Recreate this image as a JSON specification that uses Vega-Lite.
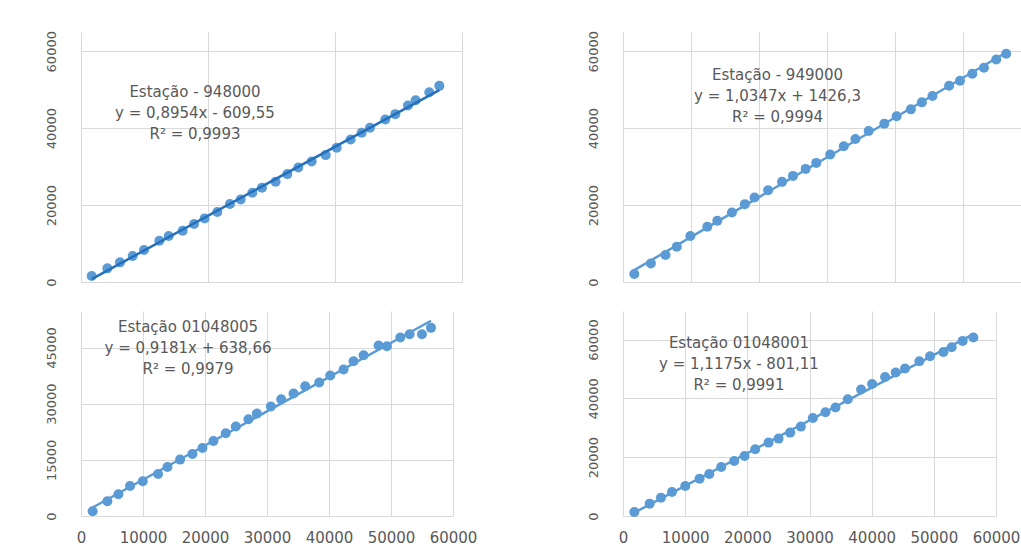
{
  "$schema": "https://vega.github.io/schema/vega-lite/v6.json",
  "background": "white",
  "padding": {"left": 44, "top": 30, "right": 0, "bottom": 0},
  "config": {
    "view": {"stroke": null},
    "axis": {"domain": false, "ticks": false, "tickSize": 0, "gridColor": "#d9d9d9", "gridWidth": 1, "labelColor": "#595959", "labelFont": "DejaVu Sans", "title": null, "labelFlush": false, "labelOverlap": false, "format": "d"},
    "text": {"font": "DejaVu Sans", "fontSize": 15, "color": "#595959", "lineHeight": 21, "align": "center", "baseline": "middle", "dy": -21}
  },
  "datasets": {
    "e948000": [
      {"x":1680,"y":1560},{"x":4150,"y":3550},{"x":6140,"y":5110},{"x":8140,"y":6750},{"x":9920,"y":8310},{"x":12340,"y":10740},{"x":13810,"y":11950},{"x":16010,"y":13330},{"x":17800,"y":15070},{"x":19470,"y":16540},{"x":21470,"y":18180},{"x":23460,"y":20260},{"x":25140,"y":21470},{"x":26980,"y":23200},{"x":28500,"y":24500},{"x":30650,"y":26060},{"x":32490,"y":28050},{"x":34220,"y":29780},{"x":36320,"y":31340},{"x":38530,"y":32990},{"x":40260,"y":34890},{"x":42460,"y":37060},{"x":44200,"y":38790},{"x":45510,"y":40090},{"x":47920,"y":42250},{"x":49500,"y":43640},{"x":51490,"y":45890},{"x":52700,"y":47270},{"x":54850,"y":49350},{"x":56430,"y":51000}
    ],
    "e949000": [
      {"x":1660,"y":2080},{"x":4100,"y":4840},{"x":6250,"y":7010},{"x":7910,"y":9170},{"x":9910,"y":11940},{"x":12400,"y":14360},{"x":13870,"y":15920},{"x":16020,"y":18080},{"x":17920,"y":20240},{"x":19340,"y":21970},{"x":21340,"y":23870},{"x":23390,"y":26040},{"x":25000,"y":27590},{"x":26860,"y":29410},{"x":28420,"y":30970},{"x":30470,"y":33130},{"x":32470,"y":35290},{"x":34180,"y":37200},{"x":36130,"y":39270},{"x":38430,"y":41170},{"x":40240,"y":43080},{"x":42340,"y":44890},{"x":43950,"y":46710},{"x":45510,"y":48350},{"x":47950,"y":51040},{"x":49560,"y":52330},{"x":51370,"y":54150},{"x":53080,"y":55710},{"x":54890,"y":57870},{"x":56350,"y":59340}
    ],
    "e01048005": [
      {"x":1880,"y":1250},{"x":4250,"y":3920},{"x":6030,"y":5790},{"x":7910,"y":8020},{"x":9960,"y":9270},{"x":12430,"y":11230},{"x":13940,"y":13100},{"x":15980,"y":15060},{"x":17970,"y":16570},{"x":19590,"y":18180},{"x":21360,"y":20050},{"x":23350,"y":22100},{"x":24970,"y":23880},{"x":27010,"y":25840},{"x":28360,"y":27350},{"x":30620,"y":29230},{"x":32290,"y":31190},{"x":34280,"y":32700},{"x":36160,"y":34660},{"x":38420,"y":35640},{"x":40200,"y":37510},{"x":42350,"y":39120},{"x":43960,"y":41340},{"x":45580,"y":42950},{"x":48000,"y":45530},{"x":49340,"y":45350},{"x":51500,"y":47670},{"x":53000,"y":48560},{"x":54990,"y":48560},{"x":56450,"y":50250}
    ],
    "e01048001": [
      {"x":1820,"y":1360},{"x":4290,"y":4200},{"x":6110,"y":6240},{"x":7880,"y":8170},{"x":10020,"y":10210},{"x":12320,"y":12700},{"x":13880,"y":14290},{"x":15800,"y":16670},{"x":17890,"y":18710},{"x":19550,"y":20410},{"x":21270,"y":22680},{"x":23410,"y":24950},{"x":25020,"y":26310},{"x":26890,"y":28350},{"x":28610,"y":30390},{"x":30540,"y":33340},{"x":32570,"y":35270},{"x":34180,"y":36860},{"x":36160,"y":39690},{"x":38300,"y":42980},{"x":40070,"y":44910},{"x":42160,"y":47290},{"x":43870,"y":48760},{"x":45370,"y":50120},{"x":47680,"y":52620},{"x":49390,"y":54320},{"x":51540,"y":55790},{"x":52870,"y":57380},{"x":54640,"y":59540},{"x":56360,"y":60670}
    ]
  },
  "columns": 2,
  "spacing": {"row": 29, "column": 161},
  "bounds": "flush",
  "concat": [
    {
      "width": 381, "height": 250,
      "layer": [
        {
          "data": {"name": "e948000"},
          "mark": {"type": "point", "filled": true, "size": 100, "color": "#5b9bd5", "opacity": 1},
          "encoding": {
            "x": {"field": "x", "type": "quantitative", "scale": {"domain": [0, 60000], "nice": false}, "axis": {"values": [0, 20000, 40000, 60000], "labels": false}},
            "y": {"field": "y", "type": "quantitative", "scale": {"domain": [0, 65000], "nice": false}, "axis": {"values": [0, 20000, 40000, 60000], "labelAngle": 270, "labelAlign": "center", "labelBaseline": "alphabetic", "labelPadding": 26, "labelFontSize": 13}}
          }
        },
        {
          "data": {"name": "e948000"},
          "transform": [{"regression": "y", "on": "x"}],
          "mark": {"type": "line", "color": "#2470bd", "strokeWidth": 2.5},
          "encoding": {
            "x": {"field": "x", "type": "quantitative"},
            "y": {"field": "y", "type": "quantitative"}
          }
        },
        {
          "data": {"values": [{"label": "a"}]},
          "mark": {"type": "text", "text": ["Estação - 948000", "y = 0,8954x - 609,55", "R² = 0,9993"]},
          "encoding": {"x": {"datum": 17950}, "y": {"datum": 43900}}
        }
      ]
    },
    {
      "width": 408, "height": 250,
      "layer": [
        {
          "data": {"name": "e949000"},
          "mark": {"type": "point", "filled": true, "size": 100, "color": "#5b9bd5", "opacity": 1},
          "encoding": {
            "x": {"field": "x", "type": "quantitative", "scale": {"domain": [0, 60000], "nice": false}, "axis": {"values": [0, 10000, 20000, 30000, 40000, 50000, 60000], "labels": false}},
            "y": {"field": "y", "type": "quantitative", "scale": {"domain": [0, 65000], "nice": false}, "axis": {"values": [0, 20000, 40000, 60000], "labelAngle": 270, "labelAlign": "center", "labelBaseline": "alphabetic", "labelPadding": 26, "labelFontSize": 13}}
          }
        },
        {
          "data": {"name": "e949000"},
          "transform": [{"regression": "y", "on": "x"}],
          "mark": {"type": "line", "color": "#5b9bd5", "strokeWidth": 2.5},
          "encoding": {
            "x": {"field": "x", "type": "quantitative"},
            "y": {"field": "y", "type": "quantitative"}
          }
        },
        {
          "data": {"values": [{"label": "b"}]},
          "mark": {"type": "text", "text": ["Estação - 949000", "y = 1,0347x + 1426,3", "R² = 0,9994"]},
          "encoding": {"x": {"datum": 22720}, "y": {"datum": 48300}}
        }
      ]
    },
    {
      "width": 372, "height": 205,
      "layer": [
        {
          "data": {"name": "e01048005"},
          "mark": {"type": "point", "filled": true, "size": 100, "color": "#5b9bd5", "opacity": 1},
          "encoding": {
            "x": {"field": "x", "type": "quantitative", "scale": {"domain": [0, 60000], "nice": false}, "axis": {"values": [0, 10000, 20000, 30000, 40000, 50000, 60000], "labelFontSize": 15, "labelPadding": 14}},
            "y": {"field": "y", "type": "quantitative", "scale": {"domain": [0, 54750], "nice": false}, "axis": {"values": [0, 15000, 30000, 45000], "labelAngle": 270, "labelAlign": "center", "labelBaseline": "alphabetic", "labelPadding": 26, "labelFontSize": 13}}
          }
        },
        {
          "data": {"name": "e01048005"},
          "transform": [{"regression": "y", "on": "x"}],
          "mark": {"type": "line", "color": "#5b9bd5", "strokeWidth": 2.5},
          "encoding": {
            "x": {"field": "x", "type": "quantitative"},
            "y": {"field": "y", "type": "quantitative"}
          }
        },
        {
          "data": {"values": [{"label": "c"}]},
          "mark": {"type": "text", "text": ["Estação 01048005", "y = 0,9181x + 638,66", "R² = 0,9979"]},
          "encoding": {"x": {"datum": 17260}, "y": {"datum": 44760}}
        }
      ]
    },
    {
      "width": 373, "height": 205,
      "layer": [
        {
          "data": {"name": "e01048001"},
          "mark": {"type": "point", "filled": true, "size": 100, "color": "#5b9bd5", "opacity": 1},
          "encoding": {
            "x": {"field": "x", "type": "quantitative", "scale": {"domain": [0, 60000], "nice": false}, "axis": {"values": [0, 10000, 20000, 30000, 40000, 50000, 60000], "labelFontSize": 15, "labelPadding": 14}},
            "y": {"field": "y", "type": "quantitative", "scale": {"domain": [0, 69700], "nice": false}, "axis": {"values": [0, 20000, 40000, 60000], "labelAngle": 270, "labelAlign": "center", "labelBaseline": "alphabetic", "labelPadding": 26, "labelFontSize": 13}}
          }
        },
        {
          "data": {"name": "e01048001"},
          "transform": [{"regression": "y", "on": "x"}],
          "mark": {"type": "line", "color": "#5b9bd5", "strokeWidth": 2.5},
          "encoding": {
            "x": {"field": "x", "type": "quantitative"},
            "y": {"field": "y", "type": "quantitative"}
          }
        },
        {
          "data": {"values": [{"label": "d"}]},
          "mark": {"type": "text", "text": ["Estação 01048001", "y = 1,1175x - 801,11", "R² = 0,9991"]},
          "encoding": {"x": {"datum": 18650}, "y": {"datum": 51530}}
        }
      ]
    }
  ]
}
